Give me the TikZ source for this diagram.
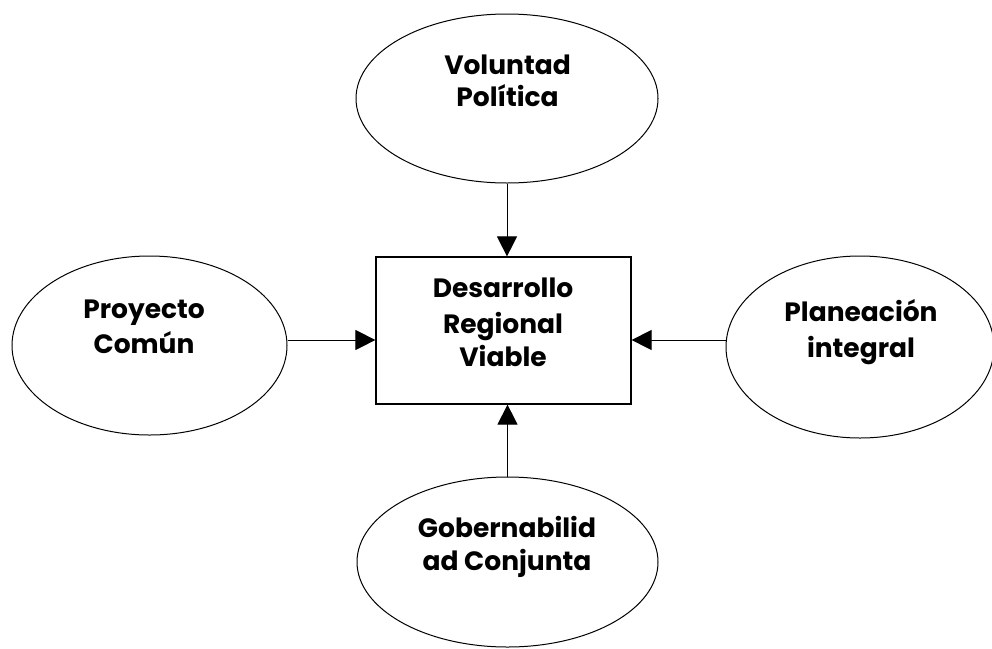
\documentclass[tikz,border=0pt]{standalone}
\usepackage{fontspec}
\setmainfont{Poppins}
\usetikzlibrary{shapes.geometric,arrows.meta}
\tikzset{
  oval/.style={draw=black, line width=1pt, ellipse, inner sep=0pt},
  sqbox/.style={draw=black, line width=1.2pt, rectangle, inner sep=0pt},
  lbl/.style={anchor=base, inner sep=0pt, font=\fontsize{26.5}{26.5}\selectfont\bfseries},
  arr/.style={line width=1pt, -{Triangle[width=20pt,length=20pt]}}
}
\begin{document}
\begin{tikzpicture}[x=1pt,y=-1pt]
\useasboundingbox[fill=white] (0,0) rectangle (992,648);
\node[oval, minimum width=302pt, minimum height=169pt] (top) at (507,98.5) {};
\node[oval, minimum width=275pt, minimum height=179pt] (lft) at (149.5,345.5) {};
\node[oval, minimum width=268pt, minimum height=182pt] (rgt) at (860,347) {};
\node[oval, minimum width=301pt, minimum height=170pt] (bot) at (507.5,562) {};
\node[sqbox, minimum width=255pt, minimum height=147pt] (box) at (503.5,330.5) {};
% labels
\node[lbl] (topa) at (507.5,74) {Voluntad};
\node[lbl] (topb) at (507.5,106) {Política};
\node[lbl] (lfta) at (144,318) {Proyecto};
\node[lbl] (lftb) at (144,353) {Común};
\node[lbl] (rgta) at (861,321) {Planeación};
\node[lbl] (rgtb) at (861,357) {integral};
\node[lbl] (bota) at (507,537) {Gobernabilid};
\node[lbl] (botb) at (507,570) {ad Conjunta};
\node[lbl] (boxa) at (503,297.7) {Desarrollo};
\node[lbl] (boxb) at (503,333) {Regional};
\node[lbl] (boxc) at (503,366.7) {Viable};
% connectors
\draw[arr] (top.south) -- (top.south |- box.north);
\draw[arr] (bot.north) -- (bot.north |- box.south);
\draw[arr] ([yshift=5.5pt]lft.east) -- ([yshift=5.5pt]lft.east -| box.west);
\draw[arr] ([yshift=7pt]rgt.west) -- ([yshift=7pt]rgt.west -| box.east);
\end{tikzpicture}
\end{document}
